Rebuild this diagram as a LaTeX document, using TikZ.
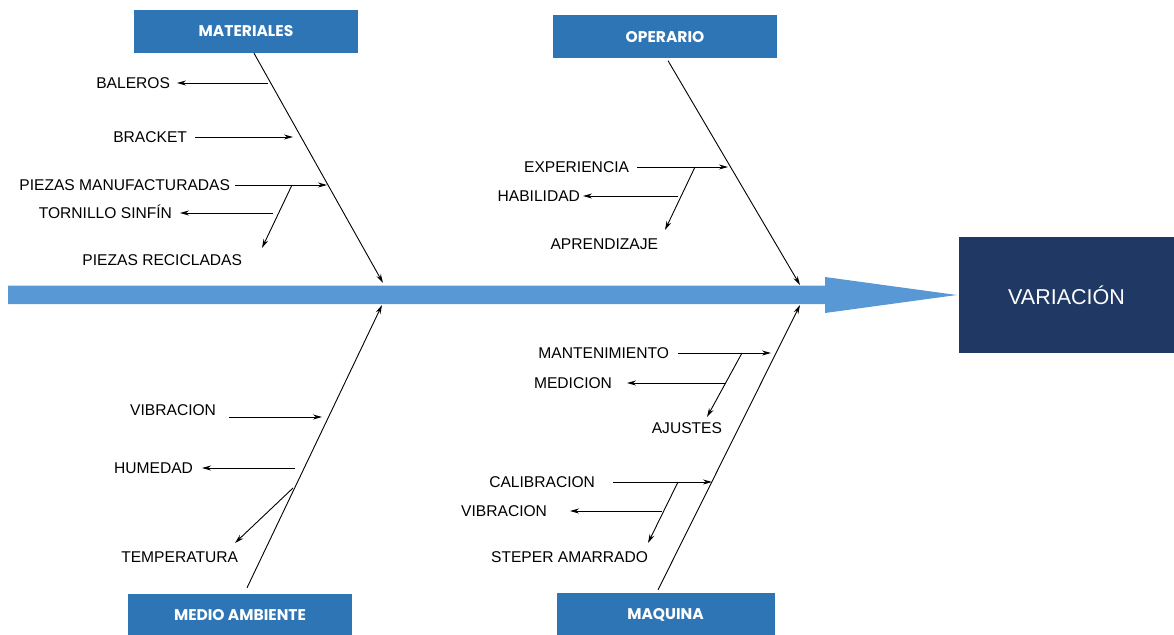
\documentclass[tikz,border=0pt]{standalone}
\usepackage{fontspec}
\setmainfont{Liberation Sans}
\newfontfamily\headfont{Poppins}
\usetikzlibrary{arrows.meta}

\definecolor{cajaazul}{RGB}{46,117,182}
\definecolor{efecto}{RGB}{31,56,100}
\definecolor{flecha}{RGB}{88,152,213}

\tikzset{
  categoria/.style={fill=cajaazul, text=white, minimum width=224pt, minimum height=43pt,
    inner sep=0pt, font=\headfont\bfseries\fontsize{15.5}{17}\selectfont},
  causa/.style={anchor=east, inner sep=0pt, outer xsep=#1, text height=11.5pt,
    text depth=0pt, font=\fontsize{15.6}{18}\selectfont},
  causa/.default=8pt,
  flechita/.style={-{Stealth[length=9pt,width=5pt]}, line width=0.9pt},
}

\begin{document}
\begin{tikzpicture}[x=1pt,y=-1pt]
  \useasboundingbox (0,0) rectangle (1174,634);

  % efecto
  \node[fill=efecto, text=white, minimum width=215pt, minimum height=116pt, inner sep=0pt,
    font=\fontsize{21.5}{24}\selectfont] (variacion) at (1066.5,295) {VARIACIÓN};

  % espina principal
  \fill[flecha] (8,285.5) -- (825,285.5) -- (825,277) -- ([xshift=-2pt]variacion.west)
    -- (825,313) -- (825,304) -- (8,304) -- cycle;

  % categorias
  \node[categoria] (materiales) at (246,31.5) {MATERIALES};
  \node[categoria] (operario) at (665,37) {OPERARIO};
  \node[categoria] (ambiente) at (240,615.5) {MEDIO AMBIENTE};
  \node[categoria, minimum width=218pt] (maquina) at (665.5,614.5) {MAQUINA};

  \coordinate (m0) at (383,283);
  \coordinate (o0) at (800,285);
  \coordinate (a0) at (382,305);
  \coordinate (q0) at (800,305);
  \draw[flechita] ([xshift=8pt]materiales.south) -- (m0);
  \draw[flechita] ([xshift=3pt,yshift=-2pt]operario.south) -- (o0);
  \draw[flechita] ([xshift=7pt,yshift=6pt]ambiente.north) -- (a0);
  \draw[flechita] ([xshift=-7.5pt,yshift=3pt]maquina.north) -- (q0);

  % materiales
  \coordinate (ma1) at (268,83);
  \coordinate (ma2) at (293,137);
  \coordinate (ma3) at (327,185);
  \coordinate (ma4) at (292,185);
  \coordinate (ma5) at (262,248);
  \coordinate (ma6) at (273,213);
  \node[causa=7pt] (baleros) at (177,83) {BALEROS};
  \node[causa] (bracket) at (195,137) {BRACKET};
  \node[causa=5pt] (manufacturadas) at (235,185) {PIEZAS MANUFACTURADAS};
  \node[causa] (tornillo) at (180,213) {TORNILLO SINFÍN};
  \node[causa=0pt] (recicladas) at (242,260) {PIEZAS RECICLADAS};
  \draw[flechita] (ma1) -- (baleros.east);
  \draw[flechita] (bracket.east) -- (ma2);
  \draw[flechita] (manufacturadas.east) -- (ma3);
  \draw[flechita] (ma4) -- (ma5);
  \draw[flechita] (ma6) -- (tornillo.east);

  % operario
  \coordinate (op1) at (728,167);
  \coordinate (op2) at (695,167);
  \coordinate (op3) at (665,230);
  \coordinate (op4) at (678,196);
  \node[causa] (experiencia) at (637,167) {EXPERIENCIA};
  \node[causa=3pt] (habilidad) at (583,196) {HABILIDAD};
  \node[causa=0pt] (aprendizaje) at (658,244) {APRENDIZAJE};
  \draw[flechita] (experiencia.east) -- (op1);
  \draw[flechita] (op2) -- (op3);
  \draw[flechita] (op4) -- (habilidad.east);

  % medio ambiente
  \coordinate (am1) at (322,417);
  \coordinate (am2) at (295,468);
  \coordinate (am3) at (293,488);
  \coordinate (am4) at (235,543);
  \node[causa=13pt] (vibracion) at (229,410) {VIBRACION};
  \node[causa=9pt] (humedad) at (202,468) {HUMEDAD};
  \node[causa=0pt] (temperatura) at (238,557) {TEMPERATURA};
  \draw[flechita] (vibracion.east |- am1) -- (am1);
  \draw[flechita] (am2) -- (humedad.east);
  \draw[flechita] (am3) -- (am4);

  % maquina
  \coordinate (mq1) at (771,353);
  \coordinate (mq2) at (726,383);
  \coordinate (mq3) at (742,353);
  \coordinate (mq4) at (707,417);
  \coordinate (mq5) at (712,482);
  \coordinate (mq6) at (662,511);
  \coordinate (mq7) at (678,482);
  \coordinate (mq8) at (648,543);
  \node[causa=9pt] (mantenimiento) at (678,353) {MANTENIMIENTO};
  \node[causa=15pt] (medicion) at (627,383) {MEDICION};
  \node[causa=0pt] (ajustes) at (722,428) {AJUSTES};
  \node[causa=18pt] (calibracion) at (613,482) {CALIBRACION};
  \node[causa=23pt] (vibracionmq) at (570,511) {VIBRACION};
  \node[causa=0pt] (steper) at (648,557) {STEPER AMARRADO};
  \draw[flechita] (mantenimiento.east) -- (mq1);
  \draw[flechita] (mq2) -- (medicion.east);
  \draw[flechita] (mq3) -- (mq4);
  \draw[flechita] (calibracion.east) -- (mq5);
  \draw[flechita] (mq6) -- (vibracionmq.east);
  \draw[flechita] (mq7) -- (mq8);
\end{tikzpicture}
\end{document}
